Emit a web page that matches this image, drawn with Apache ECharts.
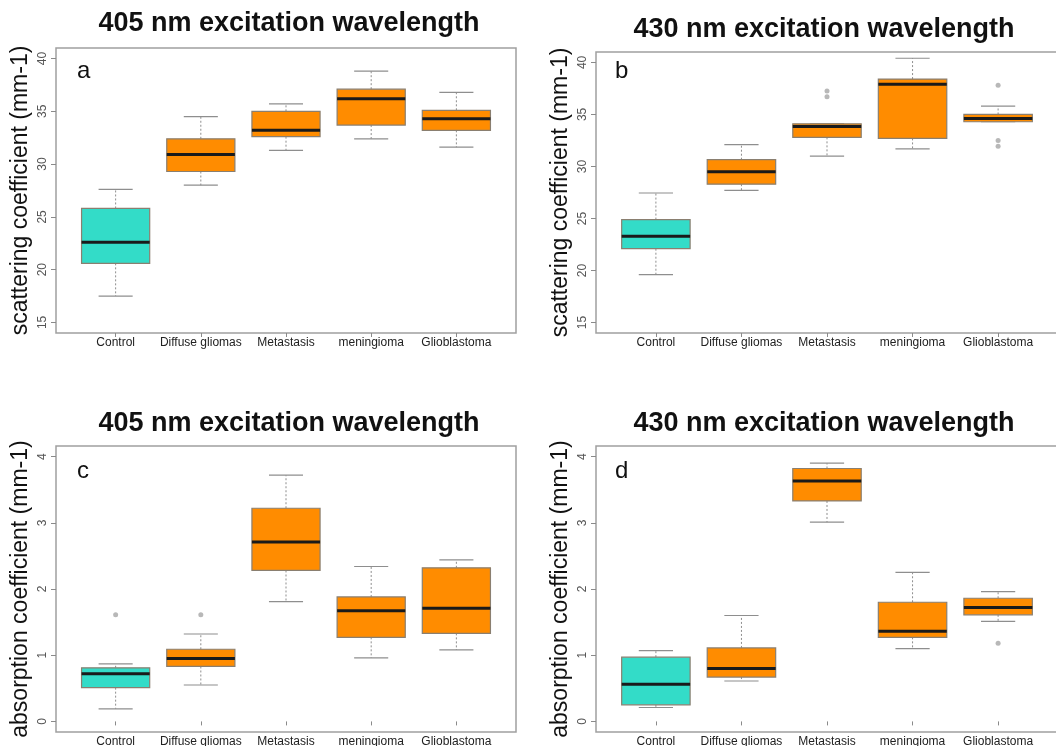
<!DOCTYPE html>
<html>
<head>
<meta charset="utf-8">
<script src="https://cdn.jsdelivr.net/npm/echarts@6/dist/echarts.min.js"></script>
<style>
  html, body { margin: 0; padding: 0; background: #ffffff; }
  #chart { width: 1056px; height: 746px; }
</style>
</head>
<body>
<div id="chart"></div>
<script>
// Groups along the x axis
const categories = ['Control', 'Diffuse gliomas', 'Metastasis', 'meningioma', 'Glioblastoma'];

// Five-number summaries per group: [lower whisker, Q1, median, Q3, upper whisker]
const scatter405 = [
  [17.5, 20.6, 22.6, 25.8, 27.6],
  [28.0, 29.3, 30.9, 32.4, 34.5],
  [31.3, 32.6, 33.2, 35.0, 35.7],
  [32.4, 33.7, 36.2, 37.1, 38.8],
  [31.6, 33.2, 34.3, 35.1, 36.8]
];
const scatter430 = [
  [19.6, 22.1, 23.3, 24.9, 27.45],
  [27.7, 28.3, 29.5, 30.65, 32.1],
  [31.0, 32.8, 33.85, 34.1, 34.1],
  [31.7, 32.7, 37.9, 38.4, 40.4],
  [34.3, 34.3, 34.6, 35.0, 35.8]
];
const absorb405 = [
  [0.19, 0.51, 0.72, 0.81, 0.87],
  [0.55, 0.83, 0.95, 1.09, 1.32],
  [1.81, 2.28, 2.71, 3.22, 3.72],
  [0.96, 1.27, 1.67, 1.88, 2.34],
  [1.08, 1.33, 1.71, 2.32, 2.44]
];
const absorb430 = [
  [0.21, 0.25, 0.56, 0.97, 1.07],
  [0.61, 0.67, 0.80, 1.11, 1.60],
  [3.01, 3.33, 3.63, 3.82, 3.90],
  [1.10, 1.27, 1.36, 1.80, 2.25],
  [1.51, 1.61, 1.72, 1.86, 1.96]
];

// Outliers: [group index, value]
const scatter405Outliers = [];
const scatter430Outliers = [[2, 37.25], [2, 36.7], [4, 37.8], [4, 32.5], [4, 31.95]];
const absorb405Outliers = [[0, 1.61], [1, 1.61]];
const absorb430Outliers = [[4, 1.18]];

// Tick labels on the value axes
const scatterTicks = [15, 20, 25, 30, 35, 40];
const absorbTicks = [0, 1, 2, 3, 4];

const FONT = '"Liberation Sans", Arial, sans-serif';
const CONTROL_FILL = '#33dcc8';
const TUMOR_FILL = '#ff8c00';
const BOX_WIDTH = 0.8;      // in category units
const CAP_WIDTH = 0.4;

const panels = [
  { title: '405 nm excitation wavelength', tag: 'a', stats: scatter405, outliers: scatter405Outliers,
    ticks: scatterTicks, min: 14, max: 41, yName: 'scattering coefficient (mm-1)',
    grid: { left: 56, top: 48, width: 460, height: 285 }, titlePos: [289, 24], tagPos: [77, 71] },
  { title: '430 nm excitation wavelength', tag: 'b', stats: scatter430, outliers: scatter430Outliers,
    ticks: scatterTicks, min: 14, max: 41, yName: 'scattering coefficient (mm-1)',
    grid: { left: 596, top: 52, width: 462, height: 281 }, titlePos: [824, 30], tagPos: [615, 71] },
  { title: '405 nm excitation wavelength', tag: 'c', stats: absorb405, outliers: absorb405Outliers,
    ticks: absorbTicks, min: -0.16, max: 4.16, yName: 'absorption coefficient (mm-1)',
    grid: { left: 56, top: 446, width: 460, height: 286 }, titlePos: [289, 424], tagPos: [77, 471] },
  { title: '430 nm excitation wavelength', tag: 'd', stats: absorb430, outliers: absorb430Outliers,
    ticks: absorbTicks, min: -0.16, max: 4.16, yName: 'absorption coefficient (mm-1)',
    grid: { left: 596, top: 446, width: 462, height: 286 }, titlePos: [824, 424], tagPos: [615, 471] }
];

function renderBox(params, api) {
  const x = api.value(0);
  const pts = [1, 2, 3, 4, 5].map(function (k) { return api.coord([x, api.value(k)]); });
  const cx = pts[0][0];
  const bw = api.size([BOX_WIDTH, 0])[0];
  const cw = api.size([CAP_WIDTH, 0])[0];
  const yLow = pts[0][1], yQ1 = pts[1][1], yMed = pts[2][1], yQ3 = pts[3][1], yHigh = pts[4][1];
  const fill = api.value(0) === 1 ? CONTROL_FILL : TUMOR_FILL;
  const whisker = { stroke: '#8e8e8e', lineWidth: 1, lineDash: [2, 2] };
  const cap = { stroke: '#8e8e8e', lineWidth: 1.2 };
  return {
    type: 'group',
    children: [
      { type: 'line', shape: { x1: cx, y1: yQ3, x2: cx, y2: yHigh }, style: whisker },
      { type: 'line', shape: { x1: cx, y1: yQ1, x2: cx, y2: yLow }, style: whisker },
      { type: 'line', shape: { x1: cx - cw / 2, y1: yHigh, x2: cx + cw / 2, y2: yHigh }, style: cap },
      { type: 'line', shape: { x1: cx - cw / 2, y1: yLow, x2: cx + cw / 2, y2: yLow }, style: cap },
      { type: 'rect', shape: { x: cx - bw / 2, y: yQ3, width: bw, height: yQ1 - yQ3 },
        style: { fill: fill, stroke: '#8a7f70', lineWidth: 1.2 } },
      { type: 'line', shape: { x1: cx - bw / 2, y1: yMed, x2: cx + bw / 2, y2: yMed },
        style: { stroke: '#1a1a1a', lineWidth: 3 } }
    ]
  };
}

const grids = [], xAxes = [], yAxes = [], series = [], graphics = [];

panels.forEach(function (p, i) {
  grids.push(Object.assign({ show: true, borderColor: '#a0a0a0', borderWidth: 1.5,
    backgroundColor: 'transparent', containLabel: false, outerBoundsMode: 'none' }, p.grid));

  xAxes.push({
    type: 'value', gridIndex: i, min: 0.3, max: 5.7,
    splitLine: { show: false },
    axisLine: { show: false },
    axisTick: { show: true, length: 4, lineStyle: { color: '#8a8a8a' }, customValues: [1, 2, 3, 4, 5] },
    axisLabel: {
      customValues: [1, 2, 3, 4, 5], margin: 4, fontSize: 12, color: '#222', fontFamily: FONT,
      formatter: function (v) { return categories[Math.round(v) - 1] || ''; }
    }
  });

  yAxes.push({
    type: 'value', gridIndex: i, min: p.min, max: p.max,
    splitLine: { show: false },
    axisLine: { show: false },
    axisTick: { show: true, length: 5, lineStyle: { color: '#8a8a8a' }, customValues: p.ticks },
    axisLabel: { customValues: p.ticks, rotate: 90, margin: 7, fontSize: 12, color: '#555', fontFamily: FONT },
    name: p.yName, nameLocation: 'middle', nameRotate: 90, nameGap: 24, nameMoveOverlap: false,
    nameTextStyle: { fontSize: 23, color: '#111', fontFamily: FONT }
  });

  series.push({
    type: 'custom', xAxisIndex: i, yAxisIndex: i, renderItem: renderBox,
    encode: { x: 0, y: [1, 2, 3, 4, 5] },
    data: p.stats.map(function (s, k) { return [k + 1].concat(s); }),
    silent: true, z: 2
  });

  series.push({
    type: 'scatter', xAxisIndex: i, yAxisIndex: i, symbol: 'circle', symbolSize: 5,
    itemStyle: { color: '#a6a6a6' },
    data: p.outliers.map(function (o) { return [o[0] + 1, o[1]]; }),
    silent: true, z: 3
  });

  graphics.push({
    type: 'text', x: p.titlePos[0], y: p.titlePos[1],
    style: { text: p.title, font: 'bold 27px ' + FONT, fill: '#111', textAlign: 'center', textVerticalAlign: 'middle' }
  });
  graphics.push({
    type: 'text', x: p.tagPos[0], y: p.tagPos[1],
    style: { text: p.tag, font: '24px ' + FONT, fill: '#111', textAlign: 'left', textVerticalAlign: 'middle' }
  });
});

const chart = echarts.init(document.getElementById('chart'), null, { renderer: 'canvas' });
chart.setOption({
  animation: false,
  backgroundColor: '#ffffff',
  grid: grids,
  xAxis: xAxes,
  yAxis: yAxes,
  series: series,
  graphic: graphics,
  tooltip: { show: false }
});
</script>
</body>
</html>
